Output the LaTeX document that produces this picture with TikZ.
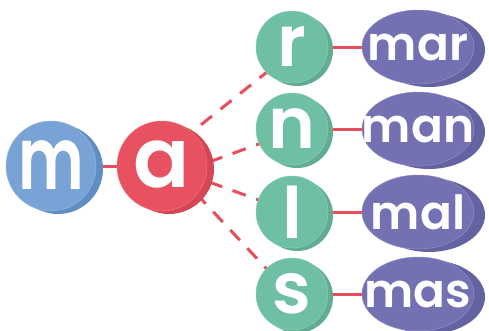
\documentclass[tikz,border=0pt]{standalone}
\usepackage{fontspec}
\newfontfamily\pop{Poppins}[BoldFont={* SemiBold}]
\newfontfamily\popn{Poppins}[BoldFont={* SemiBold}, FakeStretch=0.72]
\usetikzlibrary{shadows,shapes.geometric}
\definecolor{cblue}{HTML}{79A3D6}
\definecolor{cblueD}{HTML}{5E8EC2}
\definecolor{cred}{HTML}{E8515F}
\definecolor{credD}{HTML}{D54756}
\definecolor{cgreen}{HTML}{6FC0A2}
\definecolor{cgreenD}{HTML}{62AD91}
\definecolor{cpurp}{HTML}{7471B3}
\definecolor{cpurpD}{HTML}{6562A1}
\definecolor{cline}{HTML}{E84D5B}
\tikzset{
  disc/.style 2 args={circle, inner sep=0pt, minimum size=#1, fill=#2, draw=#2!80!white, line width=0.5pt},
  sh/.style 2 args={drop shadow={shadow xshift=#1, shadow yshift=-3pt, fill=#2, draw=none, opacity=1}},
  oval/.style={ellipse, inner sep=0pt, minimum width=112pt, minimum height=74pt, fill=cpurp,
    draw=cpurp!80!white, line width=0.5pt,
    drop shadow={shadow xshift=11pt, shadow yshift=-3pt, fill=cpurpD, draw=none, opacity=1}},
  bigm/.style={text=white, font=\popn\bfseries\fontsize{87}{87}\selectfont, inner sep=0pt},
  big/.style={text=white, font=\pop\bfseries\fontsize{83}{83}\selectfont, inner sep=0pt},
  mid/.style={text=white, font=\pop\bfseries\fontsize{71}{71}\selectfont, inner sep=0pt},
  small/.style={text=white, font=\pop\bfseries\fontsize{47}{47}\selectfont, inner sep=0pt},
  link/.style={draw=cline, line width=3pt},
  dlink/.style={draw=cline, line width=3pt, dash pattern=on 14pt off 11pt},
}
\begin{document}
\begin{tikzpicture}[x=1pt,y=-1pt]
\useasboundingbox (0,0) rectangle (489,330);
% anchor points for the connectors
\coordinate (mc) at (51,166);
\coordinate (ac) at (162,166);
\coordinate (rc) at (292,47);
\coordinate (nc) at (292,129);
\coordinate (lc) at (292,212);
\coordinate (sc) at (292,294);
\coordinate (ar) at (162,156);
\coordinate (an) at (162,179);
\coordinate (al) at (162,165);
\coordinate (as) at (162,157);
\coordinate (tr) at (292,52);
\coordinate (tn) at (292,132);
\coordinate (tl) at (292,212);
\coordinate (ts) at (292,296);
% connectors (behind the shapes)
\path[link] (mc) -- (ac);
\path[dlink] (ar) -- (tr);
\path[dlink] (an) -- (tn);
\path[dlink] (al) -- (tl);
\path[dlink] (as) -- (ts);
\foreach \y in {47,129,212,294}{
  \path[link] (292,\y) -- (418,\y);
}
% shapes
\node[disc={90pt}{cblue}, sh={7pt}{cblueD}] (m) at (mc) {};
\node[disc={90pt}{cred}, sh={7pt}{credD}] (a) at (ac) {};
\node[disc={72pt}{cgreen}, sh={5pt}{cgreenD}] (r) at (rc) {};
\node[disc={72pt}{cgreen}, sh={5pt}{cgreenD}] (n) at (nc) {};
\node[disc={72pt}{cgreen}, sh={5pt}{cgreenD}] (l) at (lc) {};
\node[disc={72pt}{cgreen}, sh={5pt}{cgreenD}] (s) at (sc) {};
\node[oval] (mar) at (418,47) {};
\node[oval] (man) at (418,129) {};
\node[oval] (mal) at (418,212) {};
\node[oval] (mas) at (418,294) {};
% texts
\node[bigm] at ([yshift=1pt]m.center) {m};
\node[big] at ([yshift=1pt]a.center) {a};
\node[mid] at (r) {r};
\node[mid] at (n) {n};
\node[mid] at (l) {l};
\node[mid] at (s) {s};
\node[small] at (mar) {mar};
\node[small] at (man) {man};
\node[small] at (mal) {mal};
\node[small] at (mas) {mas};
\end{tikzpicture}
\end{document}
